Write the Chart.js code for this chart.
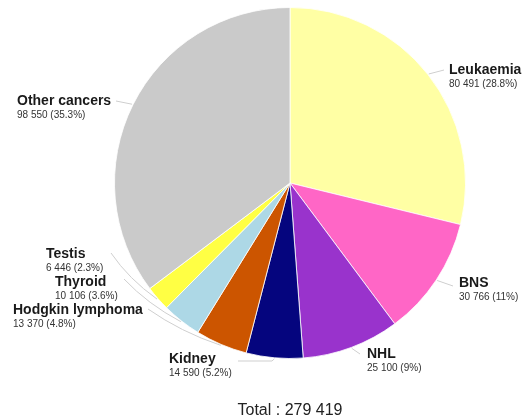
<!DOCTYPE html>
<html>
<head>
<meta charset="utf-8">
<script src="https://cdn.jsdelivr.net/npm/chart.js@4/dist/chart.umd.min.js"></script>
<style>
  html, body { margin: 0; padding: 0; background: #fff; }
  #wrap { width: 522px; height: 418px; }
</style>
</head>
<body>
<div id="wrap"><canvas id="pie" width="522" height="418"></canvas></div>
<script>
// Childhood cancer cases by type
const cancerTypes = ['Leukaemia', 'BNS', 'NHL', 'Kidney', 'Hodgkin lymphoma', 'Thyroid', 'Testis', 'Other cancers'];
const caseCounts  = [80491, 30766, 25100, 14590, 13370, 10106, 6446, 98550];
const sliceColors = ['#ffffa4', '#ff66c6', '#9933cc', '#05057e', '#cc5500', '#add8e6', '#ffff44', '#cacaca'];

// Where each label block sits and where its leader line ends
const labelLayout = [
  { tx: 449, ty: 74,  end: [444, 70] },
  { tx: 459, ty: 287, end: [453, 286] },
  { tx: 367, ty: 358, end: [360, 354] },
  { tx: 169, ty: 363, end: [238, 361], via: [272, 361] },
  { tx: 13,  ty: 314, end: [148, 309], curve: true },
  { tx: 55,  ty: 286, end: [124, 279], curve: true },
  { tx: 46,  ty: 258, end: [111, 253], curve: true },
  { tx: 17,  ty: 105, end: [116, 101] }
];

const total = caseCounts.reduce((a, b) => a + b, 0);
const fmtInt = n => String(n).replace(/\B(?=(\d{3})+(?!\d))/g, ' ');
const fmtPct = n => {
  const s = (n / total * 100).toFixed(1);
  return s.endsWith('.0') ? s.slice(0, -2) : s;
};

const FONT = '"Liberation Sans", Arial, Helvetica, sans-serif';

const sliceLabels = {
  id: 'sliceLabels',
  afterDatasetsDraw(chart) {
    const ctx = chart.ctx;
    const meta = chart.getDatasetMeta(0);
    ctx.save();
    meta.data.forEach((arc, i) => {
      const p = arc.getProps(['x', 'y', 'outerRadius', 'startAngle', 'endAngle'], true);
      const mid = (p.startAngle + p.endAngle) / 2;
      const r0 = p.outerRadius + 1;
      const sx = p.x + Math.cos(mid) * r0;
      const sy = p.y + Math.sin(mid) * r0;
      const L = labelLayout[i];
      const [ex, ey] = L.end;

      // leader line
      ctx.strokeStyle = '#cfcfcf';
      ctx.lineWidth = 1;
      ctx.beginPath();
      ctx.moveTo(sx, sy);
      if (L.via) {
        ctx.lineTo(L.via[0], L.via[1]);
        ctx.lineTo(ex, ey);
      } else if (L.curve) {
        const mx = (sx + ex) / 2, my = (sy + ey) / 2;
        const dx = mx - p.x, dy = my - p.y;
        const d = Math.hypot(dx, dy);
        const k = (d + 6) / d;
        ctx.quadraticCurveTo(p.x + dx * k, p.y + dy * k, ex, ey);
      } else {
        ctx.lineTo(ex, ey);
      }
      ctx.stroke();

      // label text
      ctx.textAlign = 'left';
      ctx.textBaseline = 'alphabetic';
      ctx.fillStyle = '#1a1a1a';
      ctx.font = 'bold 14px ' + FONT;
      ctx.fillText(cancerTypes[i], L.tx, L.ty);
      ctx.fillStyle = '#333333';
      ctx.font = '10px ' + FONT;
      ctx.fillText(fmtInt(caseCounts[i]) + ' (' + fmtPct(caseCounts[i]) + '%)', L.tx, L.ty + 13);
    });

    // grand total under the pie
    const c = meta.data[0];
    ctx.fillStyle = '#222222';
    ctx.font = '16px ' + FONT;
    ctx.textAlign = 'center';
    ctx.fillText('Total : ' + fmtInt(total), c.x, 415);
    ctx.restore();
  }
};

new Chart(document.getElementById('pie'), {
  type: 'pie',
  data: {
    labels: cancerTypes,
    datasets: [{
      data: caseCounts,
      backgroundColor: sliceColors,
      borderColor: 'rgba(255,255,255,0.8)',
      borderWidth: 1
    }]
  },
  options: {
    responsive: false,
    animation: false,
    events: [],
    layout: { padding: { left: 100, right: 42, top: 7, bottom: 59 } },
    plugins: {
      legend: { display: false },
      tooltip: { enabled: false },
      title: { display: false }
    }
  },
  plugins: [sliceLabels]
});
</script>
</body>
</html>
